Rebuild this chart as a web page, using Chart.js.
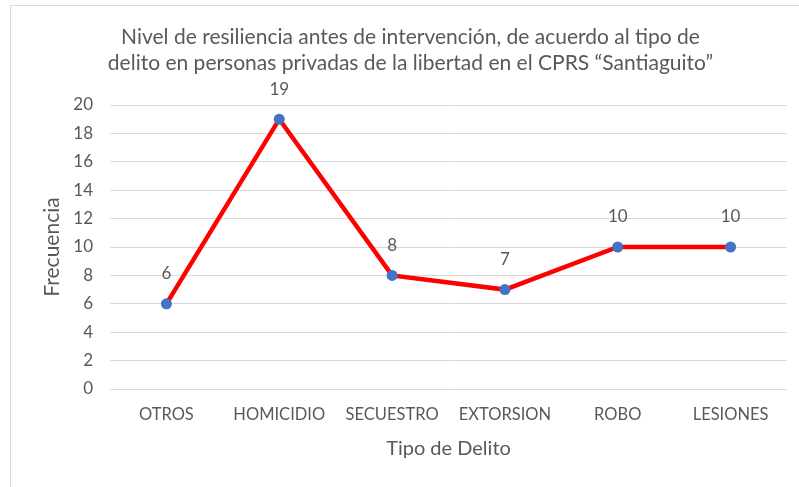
<!DOCTYPE html>
<html>
<head>
<meta charset="utf-8">
<script src="https://cdn.jsdelivr.net/npm/chart.js@4"></script>
<style>
  html, body { margin: 0; padding: 0; background: #fff; }
  #wrap { position: relative; width: 799px; height: 487px; overflow: hidden; }
  #frame { position: absolute; left: 10px; top: 5px; width: 800px; height: 500px; border: 1px solid #d9d9d9; box-sizing: border-box; }
  canvas { position: absolute; left: 0; top: 0; }
</style>
</head>
<body>
<div id="wrap">
  <div id="frame"></div>
  <canvas id="c" width="799" height="487"></canvas>
</div>
<script>
const categories = ["OTROS", "HOMICIDIO", "SECUESTRO", "EXTORSION", "ROBO", "LESIONES"];
const frecuencia = [6, 19, 8, 7, 10, 10];
const titleLines = [
  "Nivel de resiliencia antes de intervención, de acuerdo al tipo de",
  "delito en personas privadas de la libertad en el CPRS \u201cSantiaguito\u201d"
];
const xTitle = "Tipo de Delito";
const yTitle = "Frecuencia";

const FONT = "Lato, 'Open Sans', sans-serif";
const TEXT = "#595959";

const dataLabels = {
  id: "dataLabels",
  afterLayout(chart) {
    const t = chart.titleBlock;
    if (t) { t.left += 17; t.right += 17; }
  },
  afterDatasetsDraw(chart) {
    const ctx = chart.ctx;
    const meta = chart.getDatasetMeta(0);
    ctx.save();
    ctx.font = "17px " + FONT;
    ctx.fillStyle = TEXT;
    ctx.textAlign = "center";
    ctx.textBaseline = "middle";
    meta.data.forEach((pt, i) => {
      ctx.fillText(String(chart.data.datasets[0].data[i]), pt.x, pt.y - 30);
    });
    ctx.restore();
  }
};

new Chart(document.getElementById("c"), {
  type: "line",
  data: {
    labels: categories,
    datasets: [{
      data: frecuencia,
      borderColor: "#ff0000",
      borderWidth: 4.5,
      pointBackgroundColor: "#4472c4",
      pointBorderColor: "#4472c4",
      pointRadius: 5.5,
      pointBorderWidth: 0,
      tension: 0,
      clip: false
    }]
  },
  options: {
    responsive: false,
    animation: false,
    devicePixelRatio: 1,
    layout: { padding: { top: 25, left: 0, right: 12, bottom: 0 } },
    plugins: {
      legend: { display: false },
      tooltip: { enabled: false },
      title: {
        display: true,
        text: titleLines,
        color: TEXT,
        font: { family: FONT, size: 21, weight: "normal", lineHeight: 1.2 },
        padding: { top: 0, bottom: 29.6 }
      }
    },
    scales: {
      x: {
        offset: true,
        grid: { display: false, drawTicks: false },
        border: { display: false },
        ticks: { color: TEXT, font: { family: FONT, size: 16.5 }, padding: 16, maxRotation: 0, autoSkip: false },
        title: { display: true, text: xTitle, color: TEXT, font: { family: FONT, size: 20, lineHeight: 1.25 }, padding: { top: 0, bottom: 25.5 } },
        afterFit(s) { s.height = 98; }
      },
      y: {
        min: 0, max: 20,
        ticks: { stepSize: 2, color: TEXT, font: { family: FONT, size: 17 }, padding: 17 },
        grid: { color: "#d9d9d9", lineWidth: 1, drawTicks: false },
        border: { display: false },
        title: { display: true, text: yTitle, color: TEXT, font: { family: FONT, size: 21, lineHeight: 1.25 }, padding: { top: 39, bottom: 0 } },
        afterFit(s) { s.width = 110; }
      }
    }
  },
  plugins: [dataLabels]
});
</script>
</body>
</html>
